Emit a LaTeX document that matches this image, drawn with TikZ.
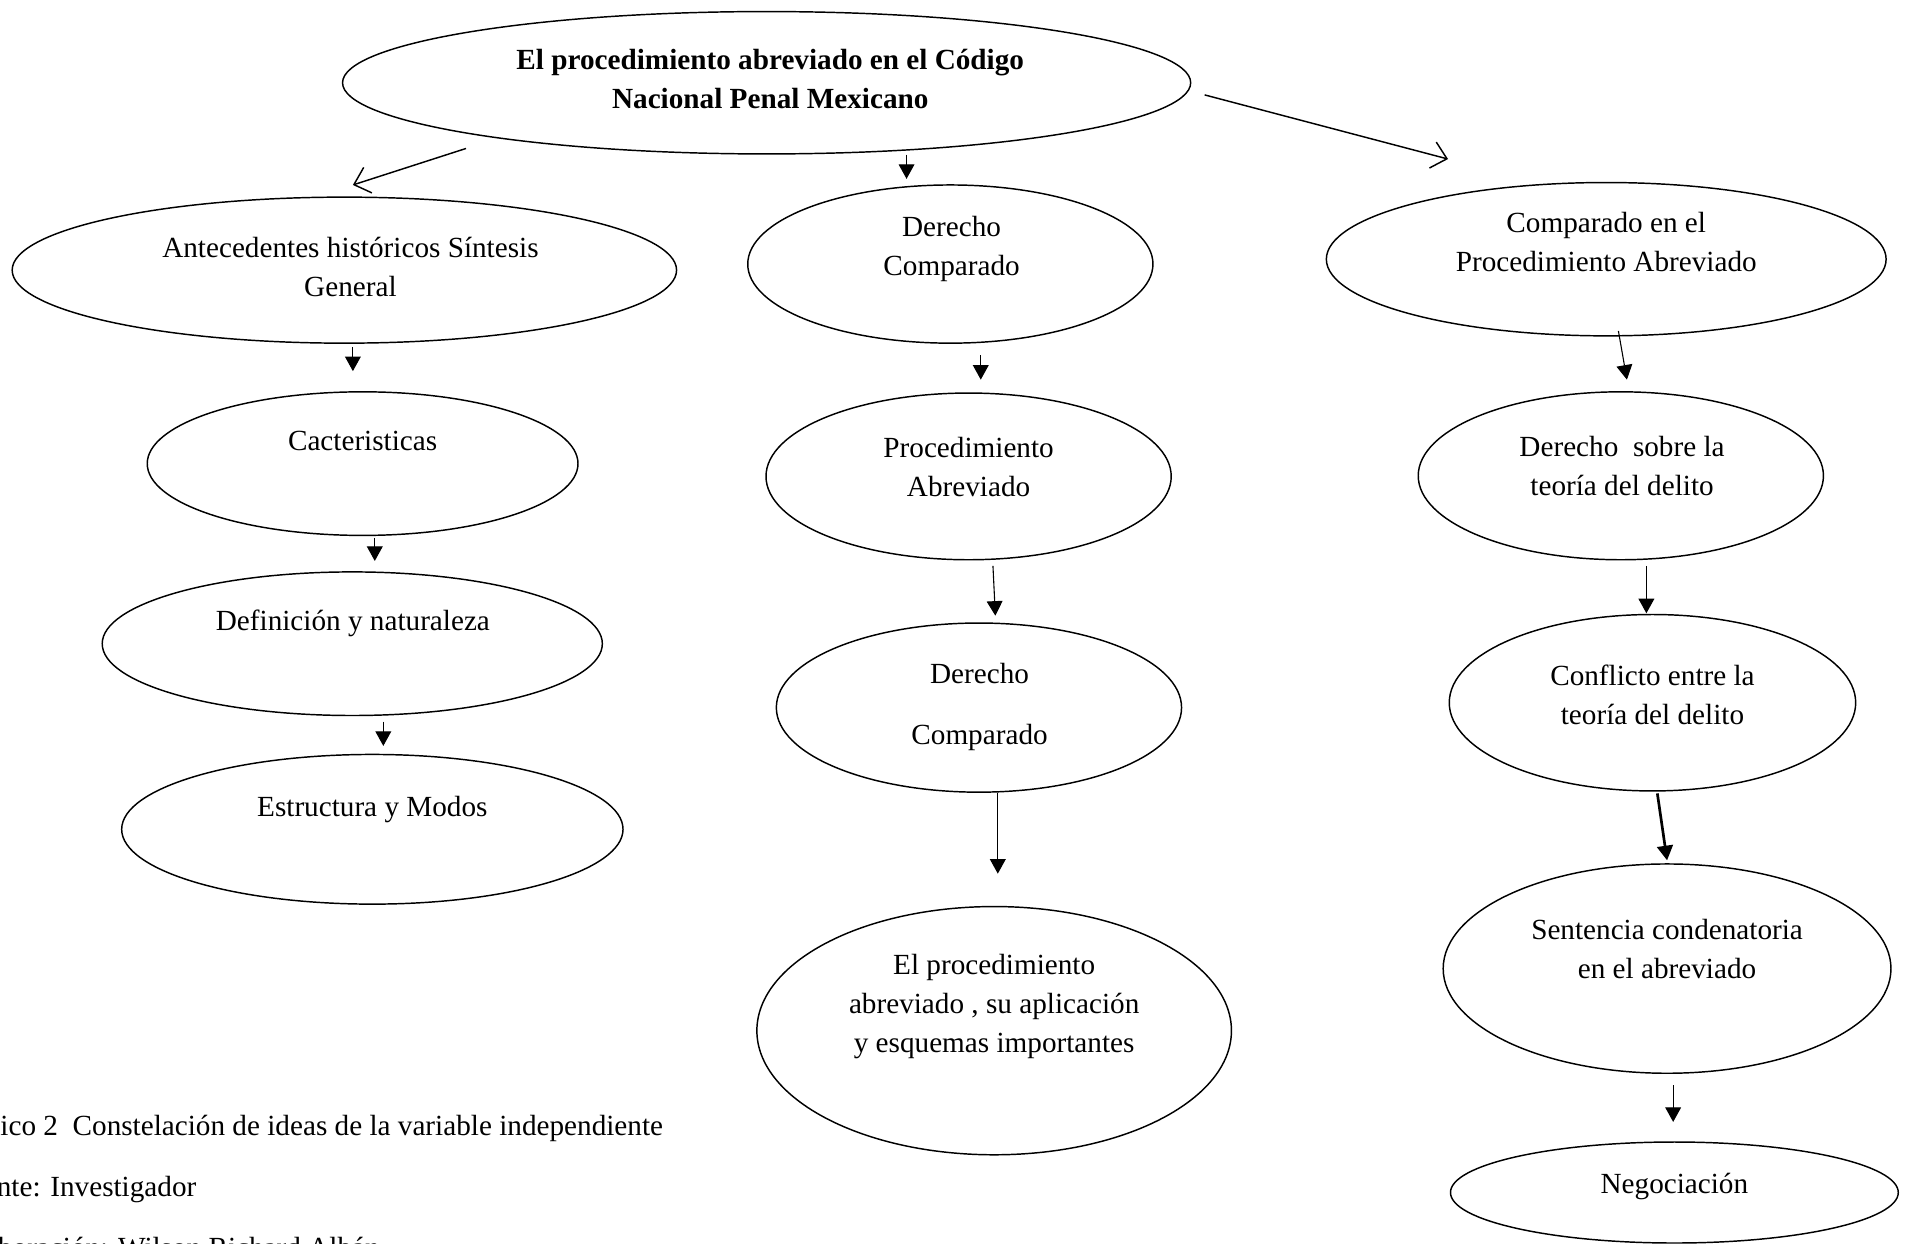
\documentclass[tikz,border=0pt]{standalone}
\usepackage{fontspec}
\setmainfont{Liberation Serif}
\usetikzlibrary{shapes.geometric,arrows.meta}
\begin{document}
\begin{tikzpicture}[x=0.5pt,y=-0.5pt,
        oval/.style={draw,ellipse,line width=0.6pt,inner sep=0pt},
        txt/.style={align=center,inner sep=0pt,font=\fontsize{12pt}{16pt}\selectfont},
        capline/.style={anchor=base west,inner sep=0pt,font=\fontsize{12pt}{16pt}\selectfont},
        tip/.style={-{Triangle[length=6pt,width=6.5pt]},line width=0.45pt},
        barb/.style={-{Straight Barb[length=6pt,width=11pt]},line width=0.6pt}]
        \useasboundingbox (0,0) rectangle (1568,1022.3);
        \clip (0,0) rectangle (1568,1022.3);
        \node[oval,minimum width=348.5pt,minimum height=58.5pt] (v0) at (630,68) {};
        \node[oval,minimum width=273pt,minimum height=60pt] (v1) at (283,222) {};
        \node[oval,minimum width=166.5pt,minimum height=65pt] (v2) at (781,217) {};
        \node[oval,minimum width=230pt,minimum height=63pt] (v3) at (1320,213) {};
        \node[oval,minimum width=177pt,minimum height=59pt] (v4) at (298,381) {};
        \node[oval,minimum width=205.5pt,minimum height=59pt] (v5) at (289.5,529) {};
        \node[oval,minimum width=206pt,minimum height=61.5pt] (v6) at (306,681.5) {};
        \node[oval,minimum width=166.5pt,minimum height=68.5pt] (v7) at (796,391.5) {};
        \node[oval,minimum width=166.5pt,minimum height=69.5pt] (v8) at (804.5,581.5) {};
        \node[oval,minimum width=195pt,minimum height=102pt] (v9) at (817,847) {};
        \node[oval,minimum width=166.5pt,minimum height=69pt] (v10) at (1332,391) {};
        \node[oval,minimum width=167pt,minimum height=72.5pt] (v11) at (1358,577.5) {};
        \node[oval,minimum width=184pt,minimum height=86pt] (v12) at (1370,796) {};
        \node[oval,minimum width=184pt,minimum height=41.5pt] (v13) at (1376,980) {};
        \node[txt,font=\fontsize{12pt}{16pt}\selectfont\bfseries] (t0) at (633,65) {El procedimiento abreviado en el Código\\Nacional Penal Mexicano};
        \node[txt] (t1) at (288,219.5) {Antecedentes históricos Síntesis\\General};
        \node[txt] (t2) at (782,204.5) {Derecho\\Comparado};
        \node[txt] (t3) at (1320,198.5) {Comparado en el\\Procedimiento Abreviado};
        \node[txt] (t4) at (298,362) {Cacteristicas};
        \node[txt] (t5) at (290,512) {Definición y naturaleza};
        \node[txt] (t6) at (306,665) {Estructura y Modos};
        \node[txt] (t7) at (796,383.5) {Procedimiento\\Abreviado};
        \node[txt] (t8) at (805,581) {Derecho\\[9pt]Comparado};
        \node[txt] (t9) at (817,827) {El procedimiento\\abreviado , su aplicación\\y esquemas importantes};
        \node[txt] (t10) at (1333,383) {Derecho~ sobre la\\teoría del delito};
        \node[txt] (t11) at (1358,571) {Conflicto entre la\\teoría del delito};
        \node[txt] (t12) at (1370,780) {Sentencia condenatoria\\en el abreviado};
        \node[txt] (t13) at (1376,975) {Negociación};
        \node[capline] (c0) at (0,933) {ico 2~ Constelación de ideas de la variable independiente};
        \node[capline] (c1) at (-3,983) {nte: Investigador};
        \node[capline] (c2) at (-2,1033) {boración: Wilson Richard Albán};
        \draw[barb] ([shift={(-247,54)}]v0.center) -- ([shift={(7,-70)}]v1.center);
        \draw[tip] ([shift={(115,59)}]v0.center) -- ([shift={(-36,-70)}]v2.center);
        \draw[barb] ([shift={(360,10)}]v0.center) -- ([shift={(-130,-82.3)}]v3.center);
        \draw[tip] ([shift={(7,63)}]v1.center) -- ([shift={(-8,-76)}]v4.center);
        \draw[tip] ([shift={(10,61)}]v4.center) -- ([shift={(18.5,-68)}]v5.center);
        \draw[tip] ([shift={(25.5,64)}]v5.center) -- ([shift={(9,-68.5)}]v6.center);
        \draw[tip] ([shift={(25,75)}]v2.center) -- ([shift={(10,-79.5)}]v7.center);
        \draw[tip] ([shift={(20,73.5)}]v7.center) -- ([shift={(13.5,-75.5)}]v8.center);
        \draw[tip] ([shift={(15.5,70.5)}]v8.center) -- ([shift={(3,-129)}]v9.center);
        \draw[tip] ([shift={(10,59)}]v3.center) -- ([shift={(5,-79)}]v10.center);
        \draw[tip] ([shift={(21,74)}]v10.center) -- ([shift={(-5,-73.5)}]v11.center);
        \draw[tip,line width=1.1pt] ([shift={(4,74.5)}]v11.center) -- ([shift={(0,-89)}]v12.center);
        \draw[tip] ([shift={(5,96)}]v12.center) -- ([shift={(-1,-58)}]v13.center);
\end{tikzpicture}
\end{document}
